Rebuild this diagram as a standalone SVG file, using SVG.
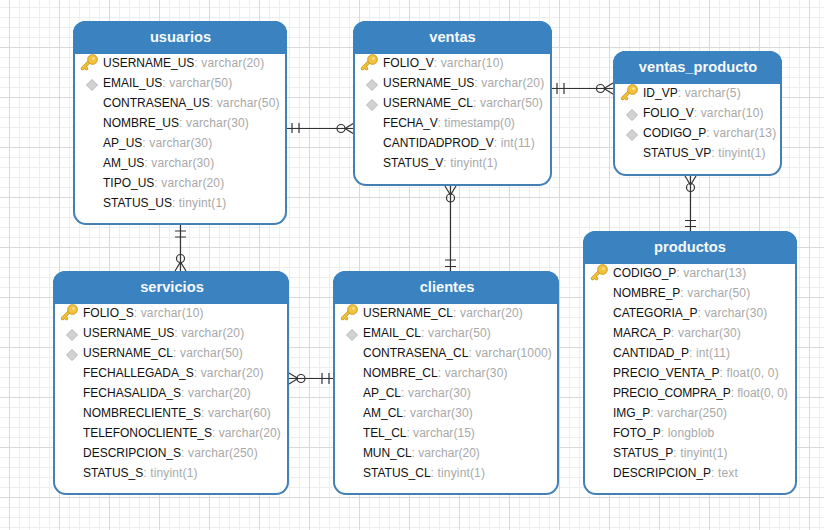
<svg xmlns="http://www.w3.org/2000/svg" width="824" height="530" viewBox="0 0 824 530">
<defs>
<pattern id="minor" width="10" height="10" patternUnits="userSpaceOnUse" x="9" y="7"><path d="M.5 0V10M0 .5H10" fill="none" stroke="#eeeeee" stroke-width="1"/></pattern>
<pattern id="major" width="50" height="50" patternUnits="userSpaceOnUse" x="9" y="-3"><path d="M.5 0V50M0 .5H50" fill="none" stroke="#d9d9d9" stroke-width="1"/></pattern>
<symbol id="key" viewBox="0 0 18 18" overflow="visible"><path d="M1.500 14.500L8 8M3.500 12.500l2 2" fill="none" stroke="#c99a1e" stroke-width="3.400" stroke-linecap="round"/><path d="M1.500 14.500L8 8M3.500 12.500l2 2" fill="none" stroke="#f5c33b" stroke-width="1.800" stroke-linecap="round"/><circle cx="11.500" cy="5.500" r="4.800" fill="#f5c33b" stroke="#c99a1e"/><circle cx="12.500" cy="4.500" r="1.300" fill="#fbe9a8"/></symbol>
<symbol id="fk" viewBox="0 0 12 12" overflow="visible"><path d="M6 .5L11.500 6L6 11.500L.5 6Z" fill="#d2d2d2" stroke="#b8b8b8"/></symbol>
</defs>
<style>
.body{fill:#fff;stroke:#4480b4;stroke-width:2}
.head{fill:#3a82c0}
.title{font:bold 14.700px "Liberation Sans",Arial,sans-serif;fill:#f6fafd;text-anchor:middle}
.row{font:12px "Liberation Sans",Arial,sans-serif;fill:#111}
.ty{fill:#a8a8a8;letter-spacing:.15px}
.c path,.c circle{fill:none;stroke:#333;stroke-width:1.200}
</style>
<rect width="824" height="530" fill="#fff"/>
<rect width="824" height="530" fill="url(#minor)"/>
<rect width="824" height="530" fill="url(#major)"/>

<g id="connectors" class="c">
<path d="M287 128.500H354M292 123V133M299 123V133M354 123L345 128.500L354 134"/><circle cx="341" cy="128.500" r="4"/>
<path d="M552 88.500H613M557 83V94M564 83V94M613 83L604 88.500L613 94"/><circle cx="600.500" cy="88.500" r="4"/>
<path d="M180.500 225V271M175 231H186M175 237H186M175 271L180.500 262L186 271"/><circle cx="180.500" cy="258.500" r="4"/>
<path d="M289 378.500H333M322 373V384M329 373V384M289 373L298 378.500L289 384"/><circle cx="301" cy="378.500" r="4"/>
<path d="M450.500 186V271M445 260H456M445 266.500H456M445 186L450.500 195L456 186"/><circle cx="450.500" cy="198" r="4"/>
<path d="M690.500 176V231M685 220.500H696M685 226.500H696M685 176L690.500 185L696 176"/><circle cx="690.500" cy="187.500" r="4"/>
</g>

<g id="usuarios">
<rect class="body" x="74" y="22" width="212" height="202" rx="12"/>
<path class="head" d="M73 54V33A12 12 0 0 1 85 21H275A12 12 0 0 1 287 33V54Z"/>
<text class="title" x="180.500" y="42">usuarios</text>
<use href="#key" x="81" y="54" width="18" height="18"/><use href="#fk" x="86" y="79" width="12" height="12"/>
<text class="row" x="103" y="67">USERNAME_US<tspan class="ty">: varchar(20)</tspan></text>
<text class="row" x="103" y="87">EMAIL_US<tspan class="ty">: varchar(50)</tspan></text>
<text class="row" x="103" y="107">CONTRASENA_US<tspan class="ty">: varchar(50)</tspan></text>
<text class="row" x="103" y="127">NOMBRE_US<tspan class="ty">: varchar(30)</tspan></text>
<text class="row" x="103" y="147">AP_US<tspan class="ty">: varchar(30)</tspan></text>
<text class="row" x="103" y="167">AM_US<tspan class="ty">: varchar(30)</tspan></text>
<text class="row" x="103" y="187">TIPO_US<tspan class="ty">: varchar(20)</tspan></text>
<text class="row" x="103" y="207">STATUS_US<tspan class="ty">: tinyint(1)</tspan></text>
</g>

<g id="ventas">
<rect class="body" x="354" y="22" width="197" height="163" rx="12"/>
<path class="head" d="M353 54V33A12 12 0 0 1 365 21H540A12 12 0 0 1 552 33V54Z"/>
<text class="title" x="452.500" y="42">ventas</text>
<use href="#key" x="361" y="54" width="18" height="18"/><use href="#fk" x="366" y="79" width="12" height="12"/><use href="#fk" x="366" y="99" width="12" height="12"/>
<text class="row" x="383" y="67">FOLIO_V<tspan class="ty">: varchar(10)</tspan></text>
<text class="row" x="383" y="87">USERNAME_US<tspan class="ty">: varchar(20)</tspan></text>
<text class="row" x="383" y="107">USERNAME_CL<tspan class="ty">: varchar(50)</tspan></text>
<text class="row" x="383" y="127" textLength="132" lengthAdjust="spacing">FECHA_V<tspan class="ty">: timestamp(0)</tspan></text>
<text class="row" x="383" y="147">CANTIDADPROD_V<tspan class="ty">: int(11)</tspan></text>
<text class="row" x="383" y="167">STATUS_V<tspan class="ty">: tinyint(1)</tspan></text>
</g>

<g id="ventas_producto">
<rect class="body" x="614" y="52" width="167" height="123" rx="12"/>
<path class="head" d="M613 84V63A12 12 0 0 1 625 51H770A12 12 0 0 1 782 63V84Z"/>
<text class="title" x="698" y="72">ventas_producto</text>
<use href="#key" x="621" y="84" width="18" height="18"/><use href="#fk" x="626" y="109" width="12" height="12"/><use href="#fk" x="626" y="129" width="12" height="12"/>
<text class="row" x="643" y="97">ID_VP<tspan class="ty">: varchar(5)</tspan></text>
<text class="row" x="643" y="117">FOLIO_V<tspan class="ty">: varchar(10)</tspan></text>
<text class="row" x="643" y="137">CODIGO_P<tspan class="ty">: varchar(13)</tspan></text>
<text class="row" x="643" y="157">STATUS_VP<tspan class="ty">: tinyint(1)</tspan></text>
</g>

<g id="servicios">
<rect class="body" x="54" y="272" width="234" height="222" rx="12"/>
<path class="head" d="M53 304V283A12 12 0 0 1 65 271H277A12 12 0 0 1 289 283V304Z"/>
<text class="title" x="172" y="292">servicios</text>
<use href="#key" x="61" y="304" width="18" height="18"/><use href="#fk" x="66" y="329" width="12" height="12"/><use href="#fk" x="66" y="349" width="12" height="12"/>
<text class="row" x="83" y="317">FOLIO_S<tspan class="ty">: varchar(10)</tspan></text>
<text class="row" x="83" y="337">USERNAME_US<tspan class="ty">: varchar(20)</tspan></text>
<text class="row" x="83" y="357">USERNAME_CL<tspan class="ty">: varchar(50)</tspan></text>
<text class="row" x="83" y="377">FECHALLEGADA_S<tspan class="ty">: varchar(20)</tspan></text>
<text class="row" x="83" y="397">FECHASALIDA_S<tspan class="ty">: varchar(20)</tspan></text>
<text class="row" x="83" y="417">NOMBRECLIENTE_S<tspan class="ty">: varchar(60)</tspan></text>
<text class="row" x="83" y="437" textLength="198" lengthAdjust="spacing">TELEFONOCLIENTE_S<tspan class="ty">: varchar(20)</tspan></text>
<text class="row" x="83" y="457">DESCRIPCION_S<tspan class="ty">: varchar(250)</tspan></text>
<text class="row" x="83" y="477">STATUS_S<tspan class="ty">: tinyint(1)</tspan></text>
</g>

<g id="clientes">
<rect class="body" x="334" y="272" width="224" height="222" rx="12"/>
<path class="head" d="M333 304V283A12 12 0 0 1 345 271H547A12 12 0 0 1 559 283V304Z"/>
<text class="title" x="447" y="292">clientes</text>
<use href="#key" x="341" y="304" width="18" height="18"/><use href="#fk" x="346" y="329" width="12" height="12"/>
<text class="row" x="363" y="317">USERNAME_CL<tspan class="ty">: varchar(20)</tspan></text>
<text class="row" x="363" y="337">EMAIL_CL<tspan class="ty">: varchar(50)</tspan></text>
<text class="row" x="363" y="357">CONTRASENA_CL<tspan class="ty">: varchar(1000)</tspan></text>
<text class="row" x="363" y="377">NOMBRE_CL<tspan class="ty">: varchar(30)</tspan></text>
<text class="row" x="363" y="397">AP_CL<tspan class="ty">: varchar(30)</tspan></text>
<text class="row" x="363" y="417">AM_CL<tspan class="ty">: varchar(30)</tspan></text>
<text class="row" x="363" y="437" textLength="112" lengthAdjust="spacing">TEL_CL<tspan class="ty">: varchar(15)</tspan></text>
<text class="row" x="363" y="457" textLength="117" lengthAdjust="spacing">MUN_CL<tspan class="ty">: varchar(20)</tspan></text>
<text class="row" x="363" y="477">STATUS_CL<tspan class="ty">: tinyint(1)</tspan></text>
</g>

<g id="productos">
<rect class="body" x="584" y="232" width="212" height="262" rx="12"/>
<path class="head" d="M583 264V243A12 12 0 0 1 595 231H785A12 12 0 0 1 797 243V264Z"/>
<text class="title" x="690" y="252">productos</text>
<use href="#key" x="591" y="264" width="18" height="18"/>
<text class="row" x="613" y="277">CODIGO_P<tspan class="ty">: varchar(13)</tspan></text>
<text class="row" x="613" y="297">NOMBRE_P<tspan class="ty">: varchar(50)</tspan></text>
<text class="row" x="613" y="317">CATEGORIA_P<tspan class="ty">: varchar(30)</tspan></text>
<text class="row" x="613" y="337">MARCA_P<tspan class="ty">: varchar(30)</tspan></text>
<text class="row" x="613" y="357">CANTIDAD_P<tspan class="ty">: int(11)</tspan></text>
<text class="row" x="613" y="377">PRECIO_VENTA_P<tspan class="ty">: float(0, 0)</tspan></text>
<text class="row" x="613" y="397" textLength="175" lengthAdjust="spacing">PRECIO_COMPRA_P<tspan class="ty">: float(0, 0)</tspan></text>
<text class="row" x="613" y="417">IMG_P<tspan class="ty">: varchar(250)</tspan></text>
<text class="row" x="613" y="437">FOTO_P<tspan class="ty">: longblob</tspan></text>
<text class="row" x="613" y="457">STATUS_P<tspan class="ty">: tinyint(1)</tspan></text>
<text class="row" x="613" y="477">DESCRIPCION_P<tspan class="ty">: text</tspan></text>
</g>
</svg>
